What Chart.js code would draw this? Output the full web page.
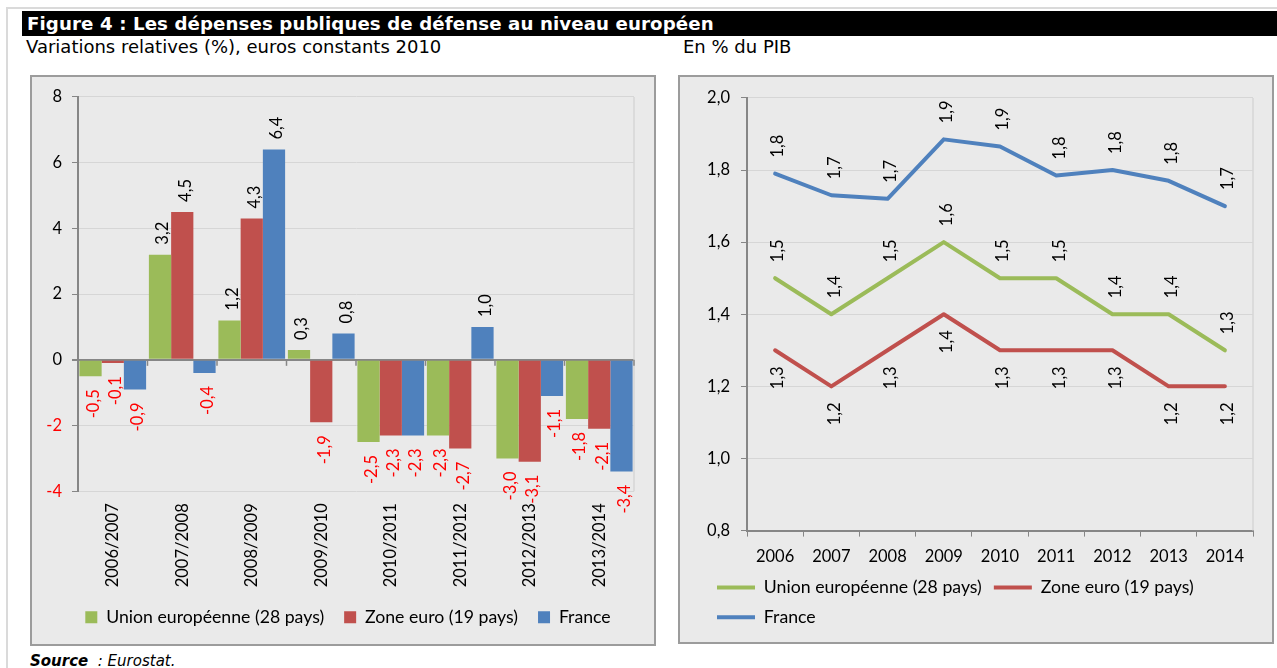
<!DOCTYPE html>
<html><head><meta charset="utf-8">
<script src="https://cdn.jsdelivr.net/npm/chart.js@4.4.0/dist/chart.umd.min.js"></script>
<style>
html,body{margin:0;padding:0;background:#fff;}
body{width:1277px;height:668px;position:relative;overflow:hidden;font-family:"DejaVu Sans",Verdana,sans-serif;}
#frame{position:absolute;left:6px;top:7px;width:1300px;height:700px;border-top:2px solid #DADADA;border-left:2px solid #DADADA;}
#title{position:absolute;left:22px;top:11px;width:1260px;height:25px;background:#000;color:#fff;font-weight:bold;font-size:18.2px;letter-spacing:0.1px;line-height:25px;padding-left:5px;box-sizing:border-box;white-space:nowrap;}
.sub{position:absolute;top:36px;font-size:18px;line-height:22px;color:#000;white-space:nowrap;}
.panel{position:absolute;background:#EAEAEA;border:2px solid #9C9C9C;box-sizing:border-box;}
.panel canvas{position:absolute;left:0;top:0;}
#src{position:absolute;left:30px;top:652px;font-size:15px;line-height:18px;font-style:italic;white-space:nowrap;}
</style>
</head>
<body>
<div id="frame"></div>
<div id="title">Figure 4 : Les dépenses publiques de défense au niveau européen</div>
<div class="sub" style="left:26px;">Variations relatives (%), euros constants 2010</div>
<div class="sub" style="left:683px;">En % du PIB</div>
<div class="panel" style="left:30px;top:75px;width:626px;height:571px;"><canvas id="c1" width="622" height="567"></canvas></div>
<div class="panel" style="left:678px;top:75px;width:596px;height:569px;"><canvas id="c2" width="592" height="565"></canvas></div>
<div id="src"><b>Source</b>&nbsp; : Eurostat.</div>
<script>
// ---- Data: left chart (variations relatives, %) ----
const periods = ['2006/2007','2007/2008','2008/2009','2009/2010','2010/2011','2011/2012','2012/2013','2013/2014'];
const ueVariation = [-0.5, 3.2, 1.2, 0.3, -2.5, -2.3, -3.0, -1.8];
const zeVariation = [-0.1, 4.5, 4.3, -1.9, -2.3, -2.7, -3.1, -2.1];
const frVariation = [-0.9, -0.4, 6.4, 0.8, -2.3, 1.0, -1.1, -3.4];
const variationTicks = [-4, -2, 0, 2, 4, 6, 8];
// ---- Data: right chart (% du PIB) ----
const years = ['2006','2007','2008','2009','2010','2011','2012','2013','2014'];
const uePib = [1.5, 1.4, 1.5, 1.6, 1.5, 1.5, 1.4, 1.4, 1.3];
const zePib = [1.3, 1.2, 1.3, 1.4, 1.3, 1.3, 1.3, 1.2, 1.2];
const frPib = [1.79, 1.73, 1.72, 1.885, 1.865, 1.785, 1.80, 1.77, 1.70];
const pibTicks = [0.8, 1.0, 1.2, 1.4, 1.6, 1.8, 2.0];
const seriesNames = ['Union européenne (28 pays)', 'Zone euro (19 pays)', 'France'];

const GREEN = '#9BBB59', RED = '#C0504D', BLUE = '#4F81BD';
const AXIS = '#868686', GRID = '#D6D6D6';
const FS = 16.5, LFS = 17.7;
const FAMILY = 'Lato, "Liberation Sans", sans-serif';
Chart.defaults.font.family = FAMILY;
Chart.defaults.font.size = FS;
Chart.defaults.color = '#000';

const fmt1 = v => v.toFixed(1).replace('.', ',');

const frameRight = {
  id: 'frameRight',
  beforeDatasetsDraw(chart) {
    const {ctx, chartArea: a} = chart;
    ctx.save();
    ctx.strokeStyle = GRID; ctx.lineWidth = 1.5;
    ctx.beginPath(); ctx.moveTo(a.right, a.top); ctx.lineTo(a.right, a.bottom); ctx.stroke();
    ctx.restore();
  }
};

const zeroTicks = {
  id: 'zeroTicks',
  beforeDatasetsDraw(chart) {
    const {ctx, scales: {x, y}} = chart;
    const y0 = y.getPixelForValue(0);
    const n = chart.data.labels.length;
    ctx.save();
    ctx.strokeStyle = AXIS; ctx.lineWidth = 1.5;
    for (let i = 0; i <= n; i++) {
      const px = x.left + i * x.width / n;
      ctx.beginPath(); ctx.moveTo(px, y0); ctx.lineTo(px, y0 + 6); ctx.stroke();
    }
    ctx.restore();
  }
};

const barLabels = {
  id: 'barLabels',
  afterDatasetsDraw(chart) {
    const ctx = chart.ctx;
    ctx.save();
    ctx.font = FS + 'px ' + FAMILY;
    ctx.textBaseline = 'middle';
    chart.data.datasets.forEach((ds, i) => {
      chart.getDatasetMeta(i).data.forEach((el, j) => {
        const v = ds.data[j];
        ctx.save();
        ctx.translate(el.x + 3, v >= 0 ? el.y - 10 : el.y + 13);
        ctx.rotate(-Math.PI / 2);
        ctx.textAlign = v >= 0 ? 'left' : 'right';
        ctx.fillStyle = v >= 0 ? '#000' : '#FF0000';
        ctx.fillText(fmt1(v), 0, 0);
        ctx.restore();
      });
    });
    ctx.restore();
  }
};

const lineLabels = {
  id: 'lineLabels',
  afterDatasetsDraw(chart) {
    const ctx = chart.ctx;
    ctx.save();
    ctx.font = FS + 'px ' + FAMILY;
    ctx.textBaseline = 'middle';
    ctx.fillStyle = '#000';
    chart.data.datasets.forEach((ds, i) => {
      const above = ds.labelSide === 'above';
      chart.getDatasetMeta(i).data.forEach((el, j) => {
        ctx.save();
        ctx.translate(el.x + 3, above ? el.y - 16 : el.y + 16);
        ctx.rotate(-Math.PI / 2);
        ctx.textAlign = above ? 'left' : 'right';
        ctx.fillText(fmt1(ds.data[j]), 0, 0);
        ctx.restore();
      });
    });
    ctx.restore();
  }
};

new Chart(document.getElementById('c1'), {
  type: 'bar',
  data: {
    labels: periods,
    datasets: [
      {label: seriesNames[0], data: ueVariation, backgroundColor: GREEN},
      {label: seriesNames[1], data: zeVariation, backgroundColor: RED},
      {label: seriesNames[2], data: frVariation, backgroundColor: BLUE}
    ]
  },
  options: {
    responsive: false, animation: false,
    layout: {padding: {left: 10, top: 18, right: 0, bottom: 8}},
    datasets: {bar: {categoryPercentage: 0.96, barPercentage: 1.0}},
    plugins: {
      legend: {position: 'bottom', align: 'center',
        labels: {boxWidth: 12, boxHeight: 12, padding: 20, color: '#000', font: {size: LFS}}},
      tooltip: {enabled: false}
    },
    scales: {
      x: {
        grid: {display: false, drawTicks: false}, border: {display: false},
        ticks: {minRotation: 90, maxRotation: 90, autoSkip: false, padding: 12, color: '#000'},
        afterFit: s => { s.height = 97; }
      },
      y: {
        min: variationTicks[0], max: variationTicks[variationTicks.length - 1],
        afterBuildTicks: s => { s.ticks = variationTicks.map(v => ({value: v})); },
        grid: {
          color: c => c.tick && c.tick.value === 0 ? AXIS : GRID,
          lineWidth: c => c.tick && c.tick.value === 0 ? 2 : 1,
          tickColor: AXIS, tickLength: 6
        },
        border: {color: AXIS, width: 2},
        ticks: {padding: 10, color: c => c.tick.value < 0 ? '#FF0000' : '#000', callback: v => String(v)},
        afterFit: s => { s.width = 36; }
      },
      yPad: {
        type: 'linear', position: 'right', display: true,
        grid: {display: false, drawTicks: false}, border: {display: false},
        ticks: {display: false},
        afterFit: s => { s.width = 20; }
      }
    }
  },
  plugins: [frameRight, zeroTicks, barLabels]
});

new Chart(document.getElementById('c2'), {
  type: 'line',
  data: {
    labels: years,
    datasets: [
      {label: seriesNames[0], data: uePib, borderColor: GREEN, backgroundColor: GREEN,
       pointBorderColor: GREEN, pointBackgroundColor: GREEN, pointBorderWidth: 4, labelSide: 'above'},
      {label: seriesNames[1], data: zePib, borderColor: RED, backgroundColor: RED,
       pointBorderColor: RED, pointBackgroundColor: RED, pointBorderWidth: 4, labelSide: 'below'},
      {label: seriesNames[2], data: frPib, borderColor: BLUE, backgroundColor: BLUE,
       pointBorderColor: BLUE, pointBackgroundColor: BLUE, pointBorderWidth: 4, labelSide: 'above'}
    ]
  },
  options: {
    responsive: false, animation: false,
    layout: {padding: {left: 25, top: 20, right: 19, bottom: 6}},
    elements: {
      line: {borderWidth: 4, tension: 0, borderCapStyle: 'round', borderJoinStyle: 'round'},
      point: {radius: 0, hoverRadius: 0}
    },
    plugins: {
      legend: {position: 'bottom', align: 'start',
        labels: {usePointStyle: true, pointStyle: 'line', pointStyleWidth: 38, padding: 12, color: '#000', font: {size: LFS}}},
      tooltip: {enabled: false}
    },
    scales: {
      x: {
        offset: true,
        grid: {display: true, offset: true, drawOnChartArea: false, drawTicks: true, tickLength: 6, tickColor: AXIS},
        border: {color: AXIS, width: 2},
        ticks: {padding: 10, maxRotation: 0, autoSkip: false, color: '#000'},
        afterFit: s => { s.height = 36; }
      },
      y: {
        min: pibTicks[0], max: pibTicks[pibTicks.length - 1],
        afterBuildTicks: s => { s.ticks = pibTicks.map(v => ({value: v})); },
        grid: {color: GRID, tickColor: AXIS, tickLength: 6},
        border: {color: AXIS, width: 2},
        ticks: {padding: 11, color: '#000', callback: v => fmt1(v)},
        afterFit: s => { s.width = 42; }
      }
    }
  },
  plugins: [frameRight, lineLabels]
});
</script>
</body></html>
